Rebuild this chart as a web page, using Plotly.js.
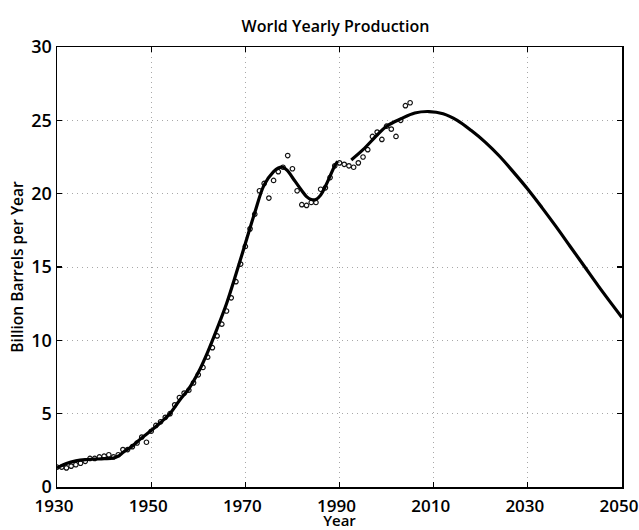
<!DOCTYPE html>
<html>
<head>
<meta charset="utf-8">
<script src="https://cdn.plot.ly/plotly-3.0.1.min.js"></script>
<style>html,body{margin:0;padding:0;background:#fff;}#chart{width:639px;height:530px;}</style>
</head>
<body>
<div id="chart"></div>
<script>
// Observed yearly production (open circles)
const obsYears = [1930,1931,1932,1933,1934,1935,1936,1937,1938,1939,1940,1941,1942,1943,1944,1945,1946,1947,1948,1949,
  1950,1951,1952,1953,1954,1955,1956,1957,1958,1959,1960,1961,1962,1963,1964,1965,1966,1967,1968,1969,
  1970,1971,1972,1973,1974,1975,1976,1977,1978,1979,1980,1981,1982,1983,1984,1985,1986,1987,1988,1989,
  1990,1991,1992,1993,1994,1995,1996,1997,1998,1999,2000,2001,2002,2003,2004,2005];
const obsValues = [1.35,1.35,1.3,1.42,1.52,1.62,1.75,1.95,1.95,2.05,2.1,2.2,2.05,2.2,2.55,2.55,2.75,3.0,3.4,3.05,
  3.8,4.2,4.45,4.75,5.0,5.6,6.1,6.4,6.6,7.1,7.65,8.15,8.85,9.5,10.3,11.1,12.0,12.9,14.0,15.2,
  16.4,17.6,18.6,20.2,20.7,19.7,20.9,21.5,21.8,22.6,21.7,20.2,19.25,19.2,19.4,19.4,20.3,20.4,21.1,21.9,
  22.1,22.0,21.9,21.8,22.1,22.5,23.0,23.9,24.2,23.7,24.6,24.4,23.9,25.0,26.0,26.2];

// Fitted / projected curve (null marks the small break in the drawn line)
const fitYears = [1930,1932,1934,1936,1938,1940,1942,1943,1944,1946,1948,1950,1952,1954,1956,1958,1960,1962,1964,1966,
  1968,1970,1972,1974,1976,1977,1978,1979,1980,1982,1983,1984,1985,1986,1987,1988,1989,1989.6,1991,
  1992.5,1995,1998,2000,2003,2006,2009,2012,2015,2018,2021,2024,2027,2030,2033,2036,2039,2042,2045,2048,2050];
const fitValues = [1.3,1.6,1.78,1.87,1.9,1.93,1.98,2.1,2.35,2.8,3.35,3.85,4.4,5.0,5.9,6.7,7.8,9.2,10.8,12.5,
  14.5,16.6,18.7,20.6,21.5,21.75,21.8,21.55,21.1,20.2,19.8,19.6,19.6,19.9,20.5,21.2,21.9,22.2,null,
  22.3,23.0,24.0,24.6,25.1,25.5,25.6,25.45,25.0,24.3,23.5,22.55,21.45,20.3,19.05,17.75,16.4,15.05,13.7,12.4,11.55];

const xTicks = [1930,1950,1970,1990,2010,2030,2050];
const yTicks = [0,5,10,15,20,25,30];

const FONT = '"Open Sans", "DejaVu Sans", sans-serif';

const traces = [
  {
    x: obsYears, y: obsValues, type: 'scatter', mode: 'markers',
    marker: {symbol: 'circle-open', size: 4.5, color: '#111', line: {width: 1.2, color: '#111'}},
    hoverinfo: 'skip', showlegend: false
  },
  {
    x: fitYears, y: fitValues, type: 'scatter', mode: 'lines',
    line: {color: '#000', width: 3.2, shape: 'spline', smoothing: 1},
    connectgaps: false, hoverinfo: 'skip', showlegend: false
  }
];

const axisCommon = {
  showline: true, linecolor: '#000', linewidth: 1.5, mirror: 'ticks',
  ticks: 'inside', ticklen: 5, tickwidth: 1.2, tickcolor: '#000',
  showgrid: true, gridcolor: '#a8a8a8', griddash: '1px,4px', gridwidth: 1,
  zeroline: false, ticklabeloverflow: 'allow'
};

const layout = {
  width: 639, height: 530,
  margin: {l: 57, r: 17, t: 47, b: 43},
  paper_bgcolor: '#fff', plot_bgcolor: '#fff',
  title: {text: 'World Yearly Production', x: 0.525, xanchor: 'center', y: 0.95, yanchor: 'middle',
          font: {family: FONT, size: 16, color: '#000', weight: 600}},
  xaxis: Object.assign({}, axisCommon, {
    range: [1929.999, 2050.001], tickmode: 'array', tickvals: xTicks, ticktext: xTicks.map(String),
    ticklabelstandoff: 3, ticklabelshift: -3,
    tickfont: {family: FONT, size: 17, color: '#000', weight: 600},
    title: {text: 'Year', standoff: 0, font: {family: FONT, size: 15, color: '#000', weight: 600}}
  }),
  yaxis: Object.assign({}, axisCommon, {
    range: [0, 30.0001], tickmode: 'array', tickvals: yTicks, ticktext: yTicks.map(String),
    tickfont: {family: FONT, size: 18, color: '#000', weight: 600},
    title: {text: 'Billion Barrels per Year', standoff: 4, font: {family: FONT, size: 15.5, color: '#000', weight: 600}}
  })
};

Plotly.newPlot('chart', traces, layout, {staticPlot: true, displayModeBar: false});
</script>
</body>
</html>
